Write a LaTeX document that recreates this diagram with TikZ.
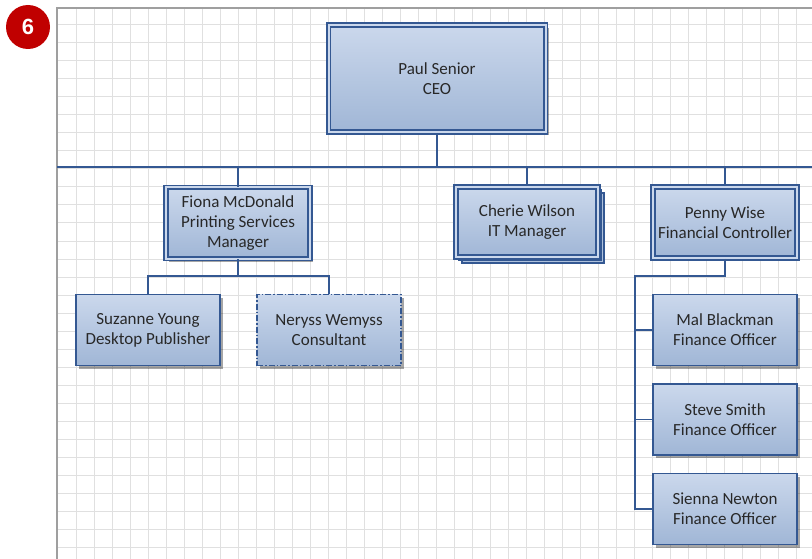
\documentclass[tikz,border=0pt]{standalone}
\usepackage{fontspec}
\setmainfont{Carlito}
\newfontfamily\badgefont{Liberation Sans}
\usetikzlibrary{positioning,shadows}

\definecolor{boxtop}{RGB}{203,216,236}
\definecolor{boxbot}{RGB}{160,182,214}
\definecolor{boxline}{RGB}{52,88,146}
\definecolor{gridline}{RGB}{224,224,224}
\definecolor{badgered}{RGB}{192,0,0}
\definecolor{textgray}{RGB}{40,40,40}

\begin{document}
\begin{tikzpicture}[x=1pt,y=-1pt,
    every node/.style={font=\fontsize{17}{20}\selectfont,text=textgray,align=center},
    staff/.style={rectangle,top color=boxtop,bottom color=boxbot,draw=boxline,line width=1.4pt,
        minimum width=144pt,minimum height=71pt,inner sep=0pt,
        drop shadow={shadow xshift=3pt,shadow yshift=-3pt,fill=black,opacity=.35}},
    headbox/.style={staff,double=boxtop,double distance=2pt,line width=1.6pt},
    link/.style={draw=boxline,line width=1.3pt}]
    \useasboundingbox (0,0) rectangle (812,559);

    % grid paper
    \fill[white] (57,8) rectangle (812,559);
    \foreach \gx in {0,...,40}
        \draw[gridline,line width=1pt] (76+18*\gx,8) -- (76+18*\gx,559);
    \foreach \gy in {0,...,30}
        \draw[gridline,line width=1pt] (57,25+18*\gy) -- (812,25+18*\gy);
    \draw[gray!75,line width=2pt] (57,559) -- (57,8) -- (812,8);

    % step badge
    \node[circle,fill=badgered,minimum size=44pt,inner sep=0pt,text=white,
          font=\badgefont\bfseries\fontsize{22}{22}\selectfont] (badge) at (28,27) {6};

    % boxes
    \node[headbox,minimum width=217pt,minimum height=107pt] (ceo) at (437,78.5) {Paul Senior\\CEO};
    \node[headbox] (fiona) at (238,223) {Fiona McDonald\\Printing Services\\Manager};
    % stacked sheets behind Cherie
    \foreach \s in {6,3}
        \draw[fill=boxbot!85!white,draw=boxline,line width=1.2pt] (456+\s,187+\s) rectangle (598+\s,257+\s);
    \node[headbox,minimum height=70pt,minimum width=142pt] (cherie) at (527,222) {Cherie Wilson\\IT Manager};
    \node[headbox] (penny) at (725,222.5) {Penny Wise\\Financial Controller};

    \node[staff] (suzanne) at (148,330) {Suzanne Young\\Desktop Publisher};
    \node[staff,dash pattern=on 6pt off 2pt on 1.5pt off 2pt] (neryss) at (329,330) {Neryss Wemyss\\Consultant};
    \node[staff] (mal) at (725,330) {Mal Blackman\\Finance Officer};
    \node[staff] (steve) at (725,419.5) {Steve Smith\\Finance Officer};
    \node[staff] (sienna) at (725,509) {Sienna Newton\\Finance Officer};

    % connectors
    \coordinate (busL) at (57,167);
    \coordinate (busR) at (812,167);
    \coordinate (fbus) at (238,276);
    \coordinate (pbus) at (635,276);
    \draw[link] (busL) -- (busR);
    \draw[link] (ceo.south) -- (ceo.south |- busL);
    \foreach \child in {fiona,cherie,penny}
        \draw[link] (\child.north) -- (\child.north |- busL);
    \draw[link] (fiona.south) -- (fbus);
    \draw[link] (suzanne.north) |- (fbus) -| (neryss.north);
    \draw[link] (penny.south) |- (pbus) |- (sienna.west);
    \foreach \child in {mal,steve}
        \draw[link] (pbus |- \child.west) -- (\child.west);
\end{tikzpicture}
\end{document}
